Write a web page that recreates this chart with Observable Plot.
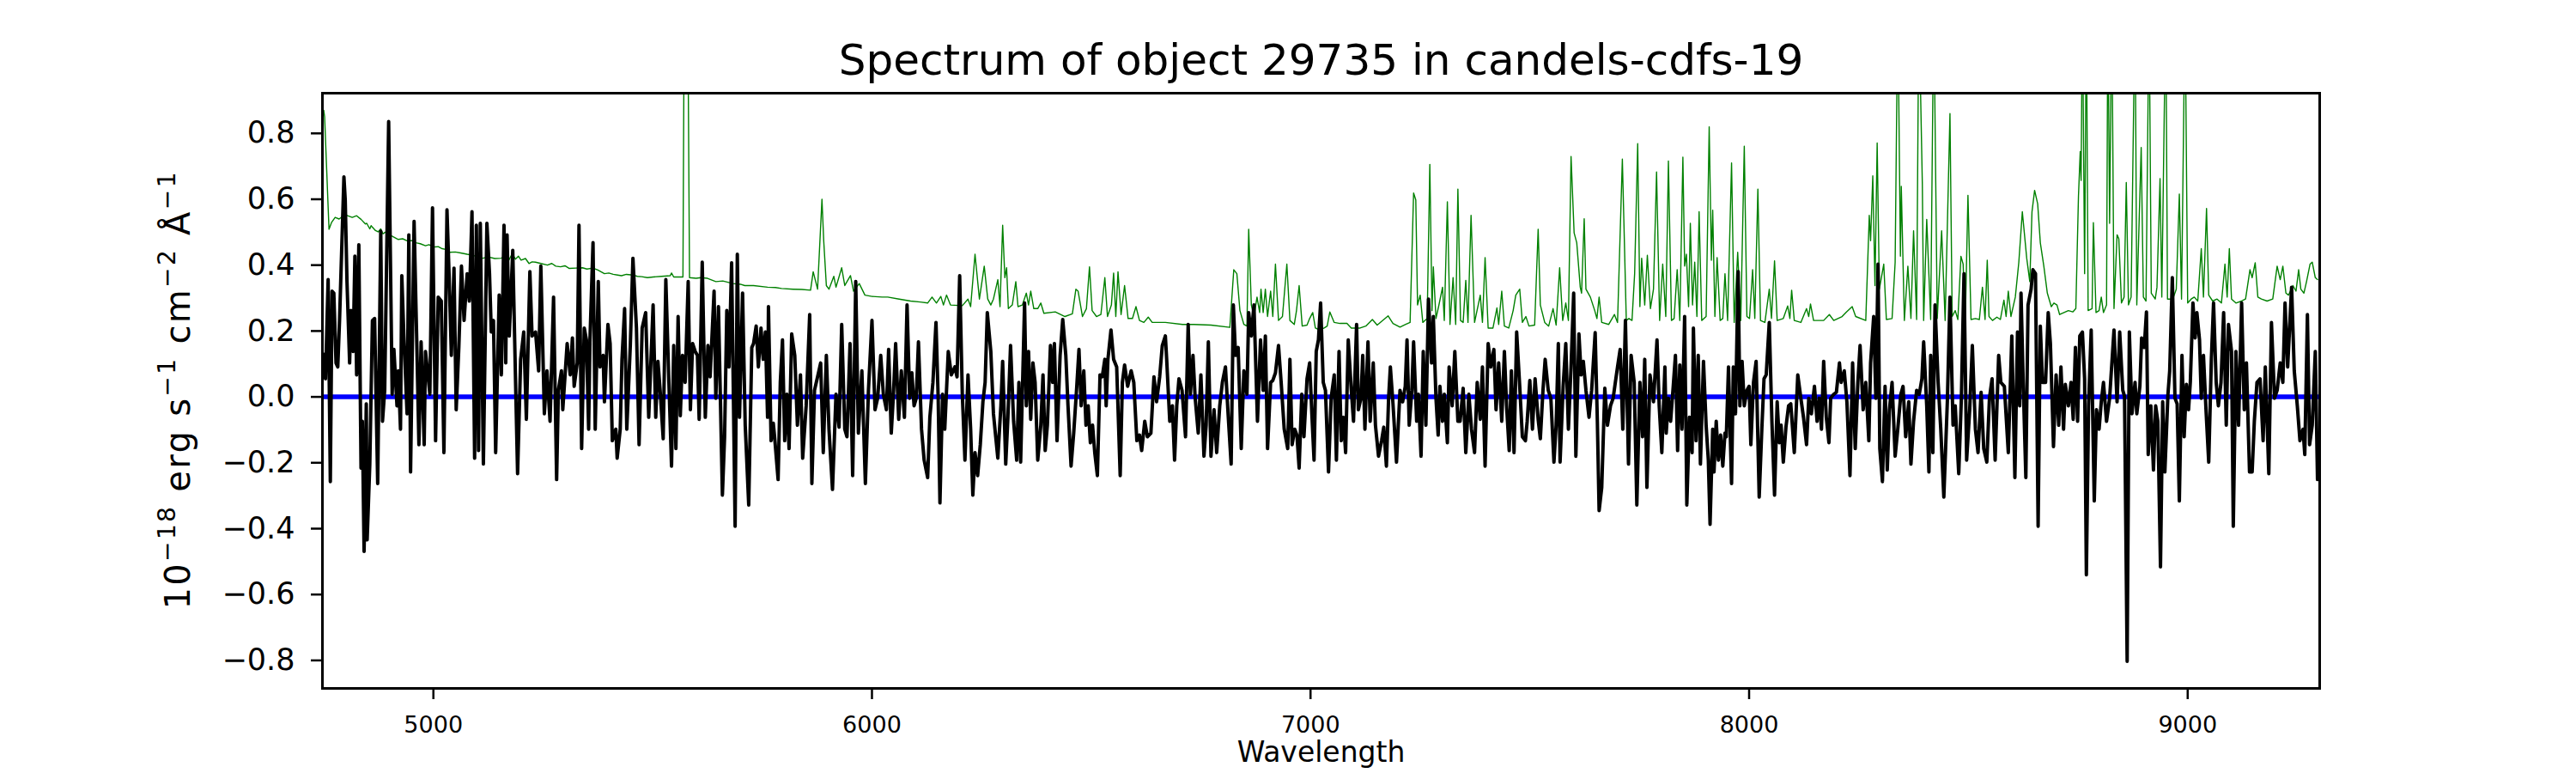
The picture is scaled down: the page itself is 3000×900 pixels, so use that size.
<!DOCTYPE html>
<html><head><meta charset="utf-8">
<script src="https://cdn.jsdelivr.net/npm/d3@7"></script>
<script src="https://cdn.jsdelivr.net/npm/@observablehq/plot@0.6"></script>
<style>body{margin:0;background:#fff;}</style>
</head><body><div id="chart"></div>
<script>
const titleText = "Spectrum of object 29735 in candels-cdfs-19";
const xLabel = "Wavelength";
const yLabelParts = [["10",false],["\u221218",true],[" erg s",false],["\u22121",true],[" cm",false],["\u22122",true],[" \u00C5",false],["\u22121",true]];
const xTicks = [5000,6000,7000,8000,9000];
const yTicks = [-0.8,-0.6,-0.4,-0.2,0,0.2,0.4,0.6,0.8];
const xDomain = [4747, 9301];
const yDomain = [-0.885, 0.922];
const zeroLevel = [0];

// observed flux: [wavelength, flux]
const observedFlux = [
[4749,0.13],[4754,0.055],[4760,0.356],[4765,-0.257],[4769,0.321],[4773,0.315],[4778,0.103],[4782,0.091],[4786,0.232],[4796,0.668],[4799,0.598],[4803,0.35],[4809,0.103],[4812,0.262],[4817,0.138],[4821,0.427],[4825,0.067],[4830,0.462],[4835,-0.216],[4838,-0.074],[4842,-0.469],[4847,-0.021],[4849,-0.434],[4855,-0.204],[4861,0.232],[4866,0.238],[4873,-0.263],[4880,0.503],[4884,-0.074],[4889,0.02],[4898,0.836],[4906,0.008],[4910,0.144],[4917,-0.027],[4920,0.079],[4925,-0.098],[4928,0.368],[4933,0.173],[4940,-0.051],[4944,0.492],[4948,-0.228],[4956,0.533],[4962,0.173],[4967,-0.145],[4972,0.167],[4979,-0.145],[4982,0.138],[4992,0.008],[4998,0.574],[5005,-0.133],[5011,0.303],[5018,0.291],[5024,-0.169],[5031,0.568],[5036,0.362],[5041,0.126],[5047,0.391],[5052,-0.039],[5058,0.15],[5064,0.397],[5070,0.232],[5077,0.374],[5082,0.291],[5088,0.562],[5094,-0.186],[5098,0.521],[5103,-0.163],[5107,0.527],[5114,-0.204],[5122,0.527],[5128,0.374],[5132,0.197],[5137,0.232],[5142,-0.169],[5150,0.309],[5155,0.067],[5161,0.521],[5165,0.103],[5168,0.492],[5173,0.185],[5181,0.445],[5188,0.008],[5192,-0.233],[5199,0.114],[5206,0.197],[5212,-0.068],[5220,0.38],[5225,0.185],[5233,0.197],[5240,0.079],[5245,0.397],[5253,-0.051],[5259,0.079],[5266,-0.074],[5274,0.303],[5281,-0.251],[5285,0.02],[5292,0.079],[5295,-0.039],[5305,0.162],[5312,0.067],[5317,0.179],[5321,0.032],[5328,0.103],[5332,0.521],[5338,-0.157],[5344,0.209],[5349,0.173],[5354,-0.098],[5357,0.173],[5364,0.468],[5369,-0.098],[5376,0.35],[5380,0.091],[5387,0.126],[5390,-0.015],[5398,0.22],[5403,0.162],[5408,-0.133],[5416,-0.098],[5419,-0.186],[5426,-0.098],[5430,0.114],[5436,0.268],[5441,-0.098],[5449,0.156],[5455,0.421],[5463,0.209],[5469,-0.145],[5476,0.209],[5484,0.256],[5491,-0.062],[5496,0.108],
[5501,0.279],[5507,-0.062],[5512,0.108],[5517,0.02],[5524,-0.127],[5530,0.356],[5537,0.044],[5543,-0.21],[5548,0.156],[5553,-0.157],[5558,0.244],[5563,-0.057],[5568,0.126],[5574,0.044],[5581,0.35],[5586,-0.039],[5591,0.162],[5597,0.138],[5602,0.126],[5606,-0.068],[5613,0.409],[5620,-0.062],[5626,0.156],[5631,0.061],[5640,0.321],[5644,-0.004],[5650,0.274],[5659,-0.298],[5664,-0.121],[5669,0.262],[5674,0.091],[5680,0.407],[5688,-0.393],[5693,0.433],[5698,-0.062],[5705,0.315],[5711,-0.086],[5719,-0.328],[5726,0.15],[5730,0.162],[5736,0.215],[5741,0.091],[5747,0.209],[5752,0.114],[5757,0.197],[5762,-0.062],[5764,0.274],[5770,-0.133],[5775,-0.08],[5778,-0.121],[5786,-0.251],[5791,0.044],[5796,0.173],[5801,-0.133],[5806,0.008],[5811,-0.157],[5817,0.191],[5824,0.126],[5830,-0.086],[5837,0.067],[5842,-0.186],[5850,-0.027],[5858,0.25],[5863,-0.263],[5869,0.02],[5876,0.061],[5883,0.103],[5889,-0.169],[5896,0.126],[5902,-0.098],[5910,-0.281],[5918,0.008],[5925,-0.092],[5931,0.22],[5938,-0.098],[5943,-0.121],[5950,0.162],[5956,-0.239],[5963,0.35],[5969,-0.11],[5977,0.079],[5985,-0.263],[5992,0.02],[6000,0.232],[6007,-0.039],[6013,-0.004],[6020,0.126],[6026,0.008],[6033,-0.039],[6038,0.144],[6044,-0.11],[6049,0.008],[6054,0.162],[6061,-0.068],[6067,0.079],[6074,-0.062],[6080,0.279],[6086,-0.004],[6091,0.073],[6096,-0.027],[6101,-0.004],[6106,0.167],[6113,-0.098],[6119,-0.192],[6127,-0.245],[6132,-0.062],[6139,0.044],[6146,0.226],[6151,-0.004],[6155,-0.322],[6161,0.008],[6166,-0.098],[6174,0.138],[6181,0.067],[6189,0.091],[6194,0.061],[6200,0.368],[6206,0.008],[6212,-0.192],[6219,0.067],[6225,-0.098],[6230,-0.298],[6235,-0.169],[6241,-0.239],[6247,-0.145],[6253,-0.015],[6258,0.044],[6263,0.256],[6271,0.138],
[6277,-0.051],[6287,-0.186],[6294,-0.027],[6298,0.108],[6305,-0.204],[6310,-0.062],[6316,0.156],[6323,-0.074],[6330,-0.192],[6335,0.044],[6339,-0.198],[6348,0.285],[6352,-0.027],[6357,0.138],[6362,-0.068],[6367,0.103],[6372,0.044],[6378,-0.192],[6385,-0.086],[6390,0.067],[6395,-0.163],[6400,-0.086],[6407,0.156],[6412,0.044],[6416,0.162],[6422,-0.133],[6429,0.126],[6435,0.235],[6442,0.126],[6447,-0.027],[6454,-0.21],[6460,-0.11],[6467,0.032],[6472,0.144],[6477,-0.027],[6483,0.079],[6488,-0.086],[6493,-0.027],[6498,-0.139],[6503,-0.086],[6508,-0.169],[6514,-0.239],[6520,0.067],[6525,0.061],[6531,0.114],[6534,-0.027],[6538,0.114],[6545,0.203],[6551,0.114],[6558,0.091],[6566,-0.239],[6571,0.044],[6576,0.097],[6583,0.032],[6591,0.079],[6597,0.044],[6604,-0.133],[6610,-0.116],[6615,-0.163],[6622,-0.074],[6628,-0.121],[6636,-0.11],[6643,0.061],[6649,-0.015],[6656,0.061],[6662,0.156],[6669,0.185],[6672,0.114],[6679,-0.074],[6685,-0.027],[6690,-0.192],[6695,-0.027],[6700,0.055],[6707,0.02],[6715,-0.121],[6721,0.22],[6726,0.008],[6732,0.126],[6737,-0.004],[6744,-0.11],[6750,0.067],[6757,-0.18],[6762,-0.086],[6767,0.167],[6773,-0.18],[6780,-0.039],[6786,-0.169],[6793,-0.027],[6799,0.044],[6806,0.091],[6812,-0.051],[6819,-0.204],[6824,0.279],[6829,0.126],[6835,0.15],[6842,-0.157],[6848,0.079],[6855,0.008],[6859,0.256],[6865,0.185],[6871,0.279],[6879,-0.074],[6886,0.173],[6892,0.02],[6897,0.185],[6902,-0.157],[6909,0.044],[6914,0.05],[6920,0.073],[6927,0.156],[6933,0.044],[6940,-0.098],[6948,-0.157],[6953,0.114],[6958,-0.145],[6964,-0.098],[6969,-0.116],[6974,-0.216],[6980,0.008],[6985,-0.121],[6992,0.055],[6998,0.103],[7003,-0.051],[7008,-0.192],[7013,0.138],[7018,0.173],[7023,0.285],[7029,0.044],[7034,0.02],[7041,-0.228],
[7047,-0.004],[7054,0.067],[7059,-0.192],[7065,0.138],[7070,-0.133],[7075,-0.062],[7080,-0.169],[7086,0.173],[7093,0.02],[7098,-0.074],[7105,0.22],[7109,-0.039],[7115,-0.004],[7119,0.126],[7124,-0.098],[7131,0.167],[7136,-0.074],[7143,0.103],[7148,-0.086],[7155,-0.18],[7162,-0.133],[7167,-0.092],[7173,-0.21],[7178,-0.004],[7182,0.091],[7188,-0.021],[7196,-0.198],[7204,0.02],[7210,-0.015],[7216,0.032],[7220,0.173],[7225,-0.086],[7231,0.02],[7235,0.167],[7242,-0.074],[7246,0.008],[7252,-0.18],[7257,0.138],[7263,-0.086],[7269,0.297],[7276,0.103],[7280,0.244],[7286,-0.004],[7291,-0.116],[7295,0.032],[7301,-0.074],[7305,0.008],[7312,-0.139],[7316,0.091],[7323,-0.027],[7329,0.138],[7336,-0.074],[7341,-0.074],[7348,0.026],[7354,-0.169],[7361,0.008],[7367,-0.098],[7374,-0.169],[7380,0.044],[7387,-0.068],[7392,0.091],[7398,-0.21],[7405,0.162],[7411,0.091],[7418,0.144],[7423,-0.039],[7429,0.103],[7436,-0.074],[7442,0.138],[7447,-0.027],[7453,-0.163],[7458,0.079],[7464,-0.169],[7470,0.197],[7477,0.032],[7483,-0.121],[7490,-0.133],[7494,-0.074],[7500,0.05],[7506,-0.098],[7512,0.055],[7519,-0.068],[7524,-0.127],[7530,0.02],[7535,0.114],[7542,0.02],[7548,-0.004],[7555,-0.198],[7560,-0.086],[7565,0.162],[7569,-0.198],[7576,0.032],[7582,0.162],[7588,-0.098],[7594,0.091],[7600,0.315],[7605,-0.18],[7612,0.191],[7617,0.067],[7622,0.108],[7628,0.02],[7635,-0.062],[7641,0.02],[7649,0.195],[7654,-0.074],[7658,-0.345],[7664,-0.275],[7671,0.026],[7677,-0.086],[7684,-0.027],[7690,-0.004],[7695,0.044],[7700,0.091],[7706,0.144],[7712,-0.098],[7718,0.232],[7725,-0.204],[7731,0.126],[7738,0.044],[7744,-0.328],[7751,0.044],[7757,-0.121],[7762,0.114],[7767,-0.275],[7774,0.067],[7782,-0.015],[7790,0.173],[7795,-0.027],[7801,-0.169],[7808,0.091],
[7811,-0.11],[7816,-0.004],[7821,-0.074],[7827,0.032],[7832,0.126],[7837,-0.163],[7842,0.097],[7847,-0.098],[7853,0.244],[7858,-0.328],[7864,-0.062],[7870,-0.169],[7873,0.209],[7879,-0.133],[7884,0.126],[7889,-0.204],[7896,0.108],[7902,-0.086],[7907,-0.192],[7911,-0.387],[7917,-0.098],[7920,-0.228],[7925,-0.074],[7930,-0.192],[7935,-0.116],[7940,-0.21],[7945,-0.11],[7948,-0.121],[7953,0.091],[7960,-0.263],[7964,0.091],[7969,-0.051],[7975,0.38],[7979,-0.027],[7984,0.108],[7989,-0.027],[7995,0.02],[8000,0.032],[8004,-0.145],[8010,0.044],[8016,0.108],[8023,-0.304],[8029,-0.098],[8034,0.055],[8039,0.067],[8046,0.226],[8052,-0.074],[8058,-0.298],[8064,-0.015],[8069,-0.139],[8073,-0.086],[8078,-0.198],[8084,-0.092],[8090,-0.027],[8095,-0.021],[8103,-0.169],[8111,0.067],[8118,-0.004],[8124,-0.062],[8131,-0.145],[8136,-0.004],[8142,-0.051],[8149,0.032],[8155,-0.074],[8160,-0.004],[8165,-0.098],[8170,0.108],[8176,-0.062],[8182,-0.139],[8186,-0.004],[8193,0.008],[8199,0.014],[8206,0.103],[8210,0.044],[8217,0.079],[8223,-0.015],[8230,-0.239],[8236,0.103],[8242,-0.157],[8248,0.044],[8253,0.156],[8260,-0.039],[8266,0.044],[8273,-0.133],[8277,0.103],[8284,0.244],[8289,-0.004],[8294,0.403],[8298,-0.157],[8304,-0.257],[8310,0.032],[8315,-0.222],[8320,-0.039],[8326,0.044],[8333,-0.18],[8339,-0.098],[8346,0.008],[8351,0.032],[8357,-0.121],[8364,-0.015],[8369,-0.204],[8375,-0.074],[8382,0.02],[8388,0.008],[8394,0.055],[8398,0.167],[8405,-0.027],[8410,-0.228],[8414,0.126],[8419,-0.169],[8424,0.279],[8431,0.044],[8437,-0.098],[8444,-0.304],[8452,-0.015],[8458,0.303],[8465,-0.086],[8470,-0.027],[8478,-0.233],[8484,-0.004],[8490,0.374],[8496,-0.192],[8503,-0.039],[8509,0.156],[8516,-0.098],[8522,-0.169],[8529,0.014],[8535,-0.157],[8542,-0.198],
[8548,-0.004],[8554,0.055],[8561,-0.192],[8569,0.126],[8574,0.044],[8582,0.032],[8591,-0.169],[8599,0.185],[8606,-0.245],[8612,0.197],[8617,-0.027],[8620,0.315],[8625,0.044],[8631,-0.245],[8636,0.279],[8643,0.327],[8647,0.386],[8653,0.374],[8659,-0.393],[8664,0.215],[8669,0.044],[8676,0.044],[8682,0.256],[8687,0.162],[8694,-0.151],[8700,0.067],[8706,-0.086],[8711,0.091],[8717,-0.098],[8721,0.038],[8728,-0.027],[8734,0.044],[8739,-0.068],[8744,0.15],[8749,-0.074],[8754,0.185],[8760,0.197],[8765,0.055],[8769,-0.54],[8774,-0.027],[8780,0.203],[8787,-0.316],[8792,-0.039],[8798,-0.098],[8803,-0.015],[8808,0.044],[8815,-0.074],[8822,-0.004],[8832,0.203],[8839,-0.015],[8845,0.197],[8852,0.02],[8856,0.002],[8862,-0.803],[8867,0.197],[8873,-0.051],[8880,0.044],[8884,-0.051],[8891,0.032],[8895,0.179],[8901,0.15],[8906,0.258],[8910,-0.175],[8916,-0.027],[8922,-0.222],[8927,-0.027],[8932,-0.074],[8938,-0.516],[8943,-0.015],[8948,-0.228],[8955,0.008],[8959,0.079],[8965,0.362],[8971,-0.004],[8976,-0.021],[8981,-0.316],[8987,0.126],[8992,-0.121],[8997,0.038],[9002,-0.039],[9006,0.044],[9012,0.285],[9017,0.179],[9021,0.256],[9027,0.173],[9031,-0.004],[9036,0.126],[9042,-0.045],[9048,-0.198],[9054,0.114],[9059,0.285],[9065,0.044],[9070,-0.027],[9076,0.044],[9082,0.256],[9088,-0.086],[9093,0.22],[9100,0.138],[9104,-0.393],[9110,0.138],[9116,-0.086],[9123,0.285],[9129,-0.039],[9134,0.103],[9141,-0.228],[9147,-0.228],[9152,-0.074],[9158,0.044],[9165,0.055],[9172,-0.133],[9177,0.091],[9185,-0.233],[9191,0.226],[9198,-0.004],[9204,0.02],[9211,0.103],[9217,0.044],[9222,0.285],[9228,0.091],[9237,0.333],[9243,0.079],[9250,-0.027],[9256,-0.133],[9263,-0.098],[9267,-0.175],[9273,0.25],[9278,-0.145],[9284,-0.086],[9291,0.138],[9296,-0.251]
];

// noise / sky spectrum: [wavelength, value]
const noiseSpectrum = [
[4750,0.87],[4752,0.85],[4762,0.509],[4768,0.53],[4776,0.545],[4785,0.54],[4795,0.55],[4803,0.551],[4815,0.545],[4825,0.55],[4835,0.539],[4845,0.525],[4848,0.527],[4855,0.51],[4858,0.52],[4861,0.515],[4868,0.505],[4874,0.501],[4880,0.51],[4885,0.495],[4890,0.5],[4900,0.492],[4910,0.485],[4920,0.478],[4930,0.48],[4940,0.474],[4953,0.474],[4960,0.468],[4970,0.465],[4982,0.459],[4990,0.462],[5000,0.455],[5011,0.456],[5020,0.45],[5030,0.447],[5037,0.439],[5050,0.44],[5062,0.437],[5077,0.433],[5090,0.43],[5100,0.425],[5113,0.421],[5125,0.425],[5140,0.42],[5155,0.421],[5165,0.43],[5172,0.415],[5180,0.435],[5187,0.418],[5194,0.427],[5200,0.415],[5210,0.42],[5218,0.405],[5225,0.41],[5233,0.409],[5245,0.405],[5260,0.4],[5270,0.405],[5279,0.397],[5290,0.395],[5300,0.398],[5310,0.39],[5325,0.391],[5340,0.392],[5350,0.388],[5364,0.391],[5375,0.385],[5390,0.374],[5400,0.376],[5410,0.372],[5420,0.37],[5429,0.368],[5440,0.372],[5455,0.37],[5465,0.366],[5475,0.365],[5488,0.362],
[5501,0.364],[5520,0.366],[5540,0.368],[5543,0.376],[5548,0.364],[5569,0.364],[5572,1.2],[5580,1.2],[5584,0.362],[5599,0.36],[5610,0.362],[5625,0.36],[5644,0.35],[5660,0.352],[5683,0.344],[5700,0.342],[5710,0.338],[5730,0.338],[5762,0.333],[5780,0.332],[5794,0.329],[5820,0.327],[5840,0.326],[5860,0.324],[5866,0.38],[5876,0.327],[5886,0.6],[5890,0.474],[5896,0.338],[5902,0.327],[5913,0.366],[5918,0.333],[5931,0.392],[5938,0.338],[5951,0.368],[5958,0.321],[5971,0.344],[5984,0.309],[6000,0.305],[6023,0.303],[6036,0.303],[6062,0.297],[6088,0.291],[6110,0.288],[6127,0.285],[6137,0.303],[6147,0.285],[6157,0.305],[6163,0.279],[6170,0.309],[6179,0.279],[6206,0.277],[6219,0.297],[6225,0.274],[6235,0.433],[6245,0.297],[6256,0.397],[6264,0.297],
[6271,0.279],[6277,0.297],[6287,0.356],[6292,0.274],[6298,0.521],[6303,0.362],[6307,0.392],[6311,0.268],[6320,0.279],[6328,0.35],[6333,0.274],[6343,0.279],[6352,0.315],[6357,0.279],[6362,0.321],[6369,0.268],[6378,0.268],[6385,0.285],[6392,0.254],[6418,0.258],[6440,0.244],[6457,0.252],[6465,0.327],[6470,0.321],[6480,0.244],[6489,0.268],[6496,0.395],[6502,0.262],[6512,0.244],[6522,0.25],[6531,0.362],[6537,0.244],[6546,0.279],[6551,0.376],[6556,0.244],[6561,0.38],[6568,0.25],[6576,0.338],[6584,0.238],[6594,0.238],[6602,0.274],[6610,0.232],[6620,0.226],[6630,0.242],[6639,0.226],[6669,0.226],[6708,0.22],[6734,0.22],[6773,0.218],[6816,0.211],[6825,0.386],[6832,0.374],[6839,0.262],[6848,0.22],[6855,0.215],[6859,0.509],[6865,0.279],[6871,0.244],[6878,0.303],[6884,0.256],[6887,0.327],[6892,0.256],[6897,0.327],[6902,0.244],[6909,0.321],[6914,0.244],[6920,0.403],[6927,0.232],[6936,0.244],[6946,0.403],[6953,0.232],[6963,0.22],[6968,0.262],[6974,0.338],[6981,0.215],[6992,0.218],[6998,0.238],[7005,0.256],[7011,0.209],[7021,0.203],[7031,0.209],
[7038,0.215],[7044,0.258],[7054,0.226],[7067,0.223],[7083,0.223],[7093,0.209],[7113,0.209],[7126,0.215],[7141,0.235],[7152,0.218],[7177,0.246],[7188,0.223],[7204,0.212],[7217,0.22],[7227,0.226],[7235,0.619],[7240,0.598],[7244,0.279],[7250,0.309],[7256,0.226],[7266,0.238],[7272,0.706],[7277,0.262],[7280,0.395],[7286,0.238],[7292,0.274],[7301,0.333],[7305,0.232],[7312,0.592],[7318,0.22],[7325,0.362],[7331,0.22],[7336,0.631],[7342,0.232],[7348,0.226],[7354,0.354],[7359,0.226],[7366,0.551],[7374,0.226],[7387,0.309],[7392,0.226],[7398,0.423],[7405,0.209],[7416,0.209],[7425,0.27],[7429,0.22],[7436,0.321],[7442,0.215],[7452,0.209],[7462,0.262],[7468,0.309],[7477,0.327],[7483,0.226],[7491,0.244],[7498,0.215],[7511,0.218],[7519,0.509],[7524,0.279],[7534,0.226],[7543,0.215],[7553,0.268],[7560,0.218],[7568,0.392],[7575,0.232],[7582,0.285],[7588,0.232],[7594,0.73],[7601,0.498],[7607,0.468],[7615,0.333],[7618,0.315],[7624,0.541],[7628,0.327],[7638,0.303],[7648,0.262],[7653,0.238],[7658,0.303],[7664,0.226],[7680,0.22],[7693,0.25],[7700,0.226],[7711,0.722],[7720,0.232],[7726,0.238],[7733,0.232],[7739,0.374],[7746,0.769],[7751,0.274],[7755,0.421],[7762,0.279],[7768,0.43],[7775,0.268],[7782,0.327],[7789,0.683],[7796,0.232],
[7803,0.403],[7810,0.244],[7816,0.716],[7823,0.232],[7829,0.238],[7836,0.386],[7842,0.232],[7849,0.728],[7853,0.397],[7857,0.433],[7862,0.274],[7866,0.527],[7871,0.279],[7876,0.409],[7881,0.244],[7886,0.562],[7892,0.232],[7902,0.244],[7909,0.82],[7914,0.415],[7917,0.567],[7922,0.244],[7927,0.423],[7934,0.232],[7940,0.238],[7945,0.374],[7951,0.232],[7960,0.71],[7966,0.226],[7974,0.439],[7981,0.232],[7989,0.761],[7995,0.244],[8001,0.238],[8008,0.386],[8013,0.238],[8020,0.631],[8026,0.232],[8036,0.226],[8046,0.327],[8051,0.238],[8058,0.413],[8064,0.232],[8078,0.238],[8088,0.276],[8093,0.238],[8097,0.324],[8103,0.232],[8118,0.226],[8131,0.268],[8136,0.244],[8140,0.282],[8147,0.232],[8170,0.232],[8183,0.25],[8193,0.232],[8212,0.244],[8222,0.258],[8235,0.274],[8243,0.244],[8266,0.232],[8274,0.551],[8277,0.474],[8282,0.671],[8287,0.338],[8292,0.771],[8297,0.327],[8307,0.403],[8313,0.235],[8326,0.238],[8333,0.409],[8339,1.2],[8345,0.427],[8347,0.639],[8354,0.232],[8362,0.397],[8369,0.238],[8375,0.504],[8382,0.235],[8387,1.2],[8395,0.645],[8398,0.232],[8405,0.539],[8414,0.235],[8421,1.2],[8429,0.238],[8439,0.504],[8447,0.232],[8458,0.86],[8463,0.244],[8470,0.262],[8476,0.235],[8483,0.427],[8488,0.403],[8493,0.232],[8499,0.612],[8506,0.235],[8516,0.238],[8525,0.235],[8532,0.333],[8538,0.235],[8543,0.415],
[8547,0.244],[8555,0.232],[8565,0.242],[8573,0.235],[8581,0.294],[8586,0.244],[8591,0.321],[8597,0.244],[8607,0.303],[8615,0.409],[8623,0.562],[8633,0.421],[8640,0.35],[8645,0.562],[8651,0.627],[8658,0.586],[8664,0.468],[8672,0.397],[8680,0.315],[8689,0.274],[8695,0.285],[8702,0.279],[8708,0.25],[8718,0.256],[8728,0.262],[8738,0.258],[8745,0.268],[8751,0.61],[8755,0.745],[8757,0.657],[8760,1.2],[8765,0.374],[8769,1.2],[8773,0.262],[8782,0.268],[8785,0.529],[8791,0.256],[8798,0.262],[8803,0.303],[8808,0.256],[8815,0.279],[8818,1.2],[8822,0.527],[8827,1.2],[8832,0.268],[8839,0.492],[8843,0.48],[8849,0.285],[8855,0.303],[8860,0.651],[8865,0.279],[8871,0.303],[8880,1.2],[8884,0.279],[8894,0.757],[8899,0.303],[8905,0.291],[8912,1.2],[8917,0.315],[8926,0.297],[8930,0.333],[8937,0.663],[8941,0.303],[8950,1.2],[8954,0.297],[8966,0.297],[8974,0.327],[8981,0.616],[8986,0.297],[8994,1.2],[9000,0.285],[9008,0.297],[9015,0.303],[9023,0.291],[9031,0.45],[9036,0.303],[9043,0.572],[9048,0.309],[9057,0.291],[9067,0.297],[9077,0.285],[9085,0.403],[9090,0.303],[9095,0.45],[9100,0.297],[9110,0.285],[9123,0.291],[9132,0.297],[9142,0.386],[9147,0.362],[9154,0.407],[9160,0.303],[9168,0.297],[9181,0.291],[9194,0.297],[9204,0.397],[9211,0.356],[9217,0.397],[9224,0.315],[9230,0.309],[9240,0.338],[9247,0.321],[9253,0.386],[9258,0.327],[9265,0.315],[9271,0.35],[9279,0.403],[9284,0.409],[9291,0.362],[9296,0.356]
];

const plot = Plot.plot({
  width: 3000, height: 900,
  marginLeft: 375, marginRight: 299, marginTop: 108, marginBottom: 99,
  style: {fontFamily: "DejaVu Sans", background: "white", color: "black"},
  x: {domain: xDomain},
  y: {domain: yDomain},
  marks: [
    Plot.line(noiseSpectrum, {x: d => d[0], y: d => d[1], stroke: "#008000", strokeWidth: 1.4, clip: true}),
    Plot.ruleY(zeroLevel, {stroke: "#0000ff", strokeWidth: 5.5}),
    Plot.line(observedFlux, {x: d => d[0], y: d => d[1], stroke: "#000000", strokeWidth: 4, strokeLinejoin: "round", clip: true}),
    Plot.frame({stroke: "#000000", strokeWidth: 3}),
    Plot.axisX({ticks: xTicks, tickFormat: d => String(d), tickSize: 13, tickPadding: 19, fontSize: 27, strokeWidth: 2.5, label: null}),
    Plot.axisY({ticks: yTicks, tickFormat: d3.format(".1f"), tickSize: 13, tickPadding: 19, fontSize: 35, strokeWidth: 2.5, label: null}),
    Plot.text([titleText], {frameAnchor: "top", dy: -38, fontSize: 50, lineAnchor: "middle", textAnchor: "middle"}),
    Plot.text([xLabel], {frameAnchor: "bottom", dy: 75, fontSize: 33, lineAnchor: "middle", textAnchor: "middle"}),
    Plot.text(["YLABEL_PLACEHOLDER"], {frameAnchor: "left", dx: -167, rotate: -90, fontSize: 40, lineAnchor: "middle", textAnchor: "middle"})
  ]
});
document.getElementById("chart").appendChild(plot);

let yl = null;
for (const t of plot.querySelectorAll("text")) {
  if (t.textContent === "YLABEL_PLACEHOLDER") { yl = t; break; }
}
if (yl) {
  while (yl.firstChild) yl.removeChild(yl.firstChild);
  yl.setAttribute("text-anchor", "middle");
  let raised = false;
  for (const [t, sup] of yLabelParts) {
    const ts = document.createElementNS("http://www.w3.org/2000/svg", "tspan");
    ts.textContent = t;
    if (sup) { ts.setAttribute("font-size", 28); if (!raised) ts.setAttribute("dy", -17); raised = true; }
    else { if (raised) ts.setAttribute("dy", 17); raised = false; }
    yl.appendChild(ts);
  }
  yl.setAttribute("textLength", 509);
  yl.setAttribute("lengthAdjust", "spacing");
}
</script>
</body></html>
